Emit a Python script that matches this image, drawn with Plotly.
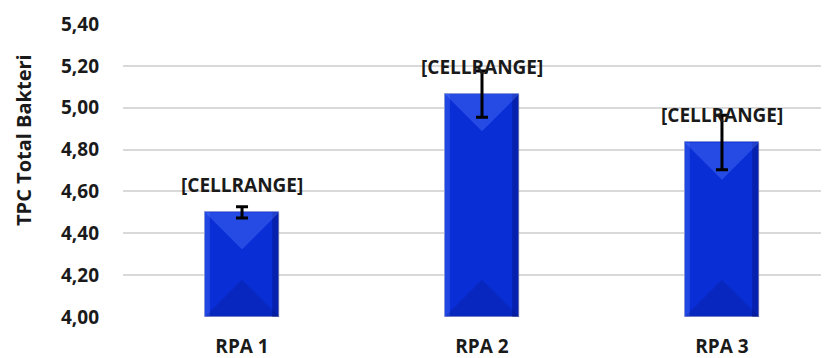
import plotly.graph_objects as go

categories = ["RPA 1", "RPA 2", "RPA 3"]
values = [4.50, 5.065, 4.834]
errors = [0.027, 0.11, 0.13]
label_texts = ["[CELLRANGE]", "[CELLRANGE]", "[CELLRANGE]"]
y_tick_vals = [4.0, 4.2, 4.4, 4.6, 4.8, 5.0, 5.2, 5.4]
y_tick_text = ["4,00", "4,20", "4,40", "4,60", "4,80", "5,00", "5,20", "5,40"]

# the page body adds an 8px offset, so the figure is sized to fit the window
W, H = 821, 350
ML, MR, MT, MB = 115, 0, 16, 41
Y0, Y1 = 4.0, 5.4
X0, X1 = -0.496, 2.446
BAR_W = 0.31

plot_w = W - ML - MR
plot_h = H - MT - MB
px_per_x = plot_w / (X1 - X0)
px_per_y = plot_h / (Y1 - Y0)
half_bar_px = BAR_W / 2 * px_per_x
bevel_y = half_bar_px / px_per_y
strip_l = 5 / px_per_x
strip_r = 7 / px_per_x

FONT = "Open Sans"
TXT = "#1a1a1a"

fig = go.Figure()
fig.add_trace(go.Bar(
    x=list(range(len(categories))), y=[v - Y0 for v in values], base=Y0,
    width=BAR_W,
    marker=dict(color="#0a2ed6", line=dict(color="#8a98d8", width=1)),
    hoverinfo="skip", showlegend=False,
))


def poly(xs, ys, color):
    fig.add_trace(go.Scatter(x=xs, y=ys, fill="toself", mode="lines",
                             line=dict(width=0), fillcolor=color,
                             hoverinfo="skip", showlegend=False))


# bevel facets derived from the bar values
for i, v in enumerate(values):
    xl, xr = i - BAR_W / 2, i + BAR_W / 2
    # left light strip and right dark strip
    poly([xl, xl + strip_l, xl + strip_l, xl, xl], [Y0, Y0, v, v, Y0],
         "rgba(90,130,255,0.30)")
    poly([xr - strip_r, xr, xr, xr - strip_r, xr - strip_r], [Y0, Y0, v, v, Y0],
         "rgba(0,10,100,0.35)")
    # top facet (lighter)
    poly([xl, xr, i, xl], [v, v, v - bevel_y, v], "rgba(90,130,255,0.35)")
    # bottom facet (darker)
    poly([xl, xr, i, xl], [Y0, Y0, Y0 + bevel_y, Y0], "rgba(0,10,90,0.18)")

# error bars drawn above the facets
fig.add_trace(go.Scatter(
    x=list(range(len(categories))), y=values, mode="markers",
    marker=dict(size=0.1, color="rgba(0,0,0,0)"),
    error_y=dict(type="data", array=errors, visible=True, color="black",
                 thickness=3, width=6),
    hoverinfo="skip", showlegend=False,
))

for i, (v, t) in enumerate(zip(values, label_texts)):
    fig.add_annotation(x=i, y=v, text="<b>%s</b>" % t, showarrow=False,
                       yshift=27, font=dict(family=FONT, size=19, color=TXT))

fig.add_annotation(x=(15 - ML) / plot_w, y=(H - MB - 132) / plot_h,
                   xref="paper", yref="paper", xanchor="center", yanchor="middle",
                   text="<b>TPC Total Bakteri</b>", showarrow=False, textangle=-90,
                   font=dict(family=FONT, size=20, color=TXT))

fig.update_layout(
    width=W, height=H,
    margin=dict(l=ML, r=MR, t=MT, b=MB, pad=0),
    paper_bgcolor="white", plot_bgcolor="white",
    bargap=0,
    xaxis=dict(range=[X0, X1], tickvals=list(range(len(categories))),
               ticktext=["<b>%s</b>" % c for c in categories],
               showgrid=False, zeroline=False, showline=False, ticks="",
               ticklabelstandoff=16,
               tickfont=dict(family=FONT, size=19, color=TXT)),
    yaxis=dict(range=[Y0, Y1], tickvals=y_tick_vals,
               ticktext=["<b>%s</b>" % t for t in y_tick_text],
               showgrid=True, gridcolor="#d9d9d9", gridwidth=1.5,
               zeroline=False, showline=False, ticks="",
               ticklabelstandoff=23,
               tickfont=dict(family=FONT, size=19, color=TXT)),
)

fig.write_html("out.html")
